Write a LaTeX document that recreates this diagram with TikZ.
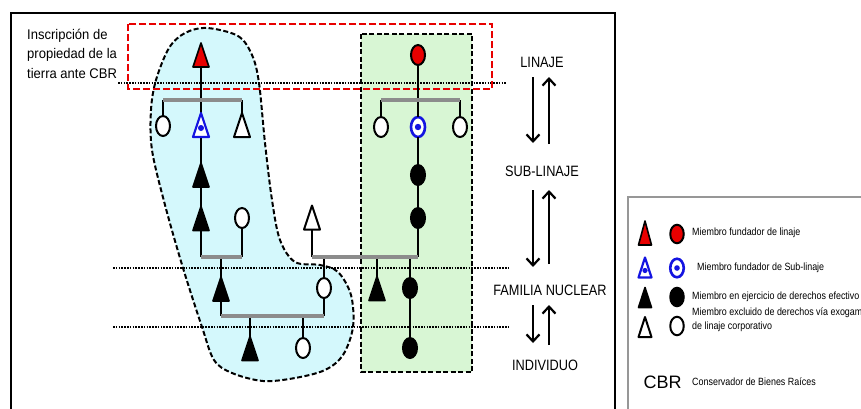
\documentclass[tikz,border=0pt]{standalone}
\usepackage{fontspec}
\setmainfont{Liberation Sans}
\newfontfamily\narrowfont[FakeStretch=0.85]{Liberation Sans}
\newfontfamily\inscfont[FakeStretch=0.93]{Liberation Sans}
\usetikzlibrary{shapes.geometric,arrows.meta}
\definecolor{blobcyan}{RGB}{212,248,252}
\definecolor{boxgreen}{RGB}{216,246,212}
\definecolor{linred}{RGB}{232,0,0}
\definecolor{subblue}{RGB}{20,20,225}
\definecolor{bargray}{RGB}{140,140,140}
\tikzset{
  member/.style={inner sep=0pt, outer sep=0pt},
  trinode/.style={member, rectangle, minimum width=16pt, minimum height=24pt},
  ltrinode/.style={member, rectangle, minimum width=13pt, minimum height=20pt},
  circnode/.style={member, ellipse, minimum width=14pt, minimum height=20pt, line width=2pt, draw=black},
  lcircnode/.style={circnode, minimum width=13.5pt, minimum height=18.5pt},
  wfill/.style={fill=white},
  bfill/.style={fill=black},
  rfill/.style={fill=linred},
  bluering/.style={draw=subblue, line width=2.6pt, fill=white},
  rtri/.style={fill=linred, draw=black, line width=1.6pt, line join=round},
  wtri/.style={fill=white, draw=black, line width=2pt, line join=round},
  btri/.style={fill=black, draw=black, line width=1.6pt, line join=round},
  bltri/.style={fill=white, draw=subblue, line width=2.2pt, line join=round},
  bluedot/.style={fill=subblue},
  conn/.style={draw=black, line width=2pt},
  bar/.style={draw=bargray, line width=3.2pt},
  dotline/.style={draw=black, line width=2.8pt, dash pattern=on 1.5pt off 1.3pt},
  blackdash/.style={draw=black, line width=2pt, dash pattern=on 5pt off 2.5pt},
  reddash/.style={draw=linred, line width=2.8pt, dash pattern=on 7pt off 3pt},
  levelarrow/.style={draw=black, line width=2.2pt, -{Straight Barb[length=7pt,width=13pt]}},
  levellabel/.style={font=\narrowfont\fontsize{15}{18}\selectfont, inner sep=0pt},
  insclabel/.style={font=\inscfont\fontsize{14}{18}\selectfont, inner sep=0pt, anchor=base west},
  legtext/.style={font=\narrowfont\fontsize{10.5}{14}\selectfont, inner sep=0pt, anchor=west, align=left}
}
\begin{document}
\begin{tikzpicture}[x=1pt,y=-1pt]
\useasboundingbox (0,0) rectangle (861,408);
\clip (0,0) rectangle (861,408);
\fill[white] (0,0) rectangle (861,408);

% frame and legend box
\draw[line width=2pt] (11,430) -- (11,13);
\draw[line width=2pt] (615,13) -- (615,430);
\draw[line width=2.8pt] (10,13) -- (616,13);
\draw[draw=bargray!90, line width=1.1pt] (628,430) -- (628,197) -- (880,197);

% green lineage box
\filldraw[fill=boxgreen, blackdash] (361,34) rectangle (472,372);

% cyan sub-lineage blob
\filldraw[fill=blobcyan, blackdash] plot[smooth cycle, tension=0.55] coordinates {
 (207,28) (238,36) (252,55) (259,83) (265,143) (272,200) (280,240) (295,262)
 (320,265) (338,272) (351,295) (353,327) (343,355) (325,370) (295,378) (263,381)
 (232,373) (214,360) (202,327) (183,268) (165,205) (152,150) (151,110) (156,80)
 (169,48) (185,33)};

% level separators
\draw[dotline] (118,83) -- (507,83);
\draw[dotline] (113,268) -- (510,268);
\draw[dotline] (113,327) -- (510,327);

% land registration box
\draw[reddash] (128,24) rectangle (492,89);

% inscription label
\node[insclabel] (ins1) at (27,39) {Inscripción de};
\node[insclabel] (ins2) at (27,58.5) {propiedad de la};
\node[insclabel] (ins3) at (27,78) {tierra ante CBR};

% members: left lineage
\node[trinode] (A0) at (201,55) {};
\node[circnode, wfill] (A1) at (163,126) {};
\node[trinode] (A2) at (201,125) {};
\node[trinode] (A3) at (242,125) {};
\node[trinode] (A4) at (201,175) {};
\node[trinode] (A5) at (201,218.5) {};
\node[circnode, wfill] (A6) at (242,218) {};
\node[trinode] (A7) at (221,289) {};
\node[trinode] (A8) at (250,348.5) {};
\node[circnode, wfill] (A9) at (303,348) {};
% members: right lineage
\node[circnode, rfill] (B0) at (418,55) {};
\node[circnode, wfill] (B1) at (381,127) {};
\node[circnode, bluering] (B2) at (418,127) {};
\node[circnode, wfill] (B3) at (460,127) {};
\node[circnode, bfill] (B4) at (418,175) {};
\node[circnode, bfill] (B5) at (418,218) {};
\node[trinode] (W) at (312,217.5) {};
\node[circnode, wfill] (C) at (324,288) {};
\node[trinode] (T) at (377,288.5) {};
\node[circnode, bfill] (D) at (410,288) {};
\node[circnode, bfill] (E) at (410,348) {};

% bar levels
\coordinate (L1) at (201,100);
\coordinate (R1) at (418,100);
\coordinate (L2) at (221,257);
\coordinate (M) at (312,257);
\coordinate (L3) at (221,316);

% connectors
\draw[conn] (A0.south) -- (A2.north);
\draw[conn] (A1.north) -- (A1.north |- L1);
\draw[conn] (A3.north) -- (A3.north |- L1);
\draw[conn] (A2.south) -- (A4.north);
\draw[conn] (A4.south) -- (A5.north);
\draw[conn] (A5.south) -- (A5.south |- L2);
\draw[conn] (A6.south) -- (A6.south |- L2);
\draw[conn] (L2) -- (A7.north);
\draw[conn] (A7.south) -- (A7.south |- L3);
\draw[conn] (C.south) -- (C.south |- L3);
\draw[conn] (A8.north |- L3) -- (A8.north);
\draw[conn] (A9.north |- L3) -- (A9.north);
\draw[conn] (B0.south) -- (B2.north);
\draw[conn] (B1.north) -- (B1.north |- R1);
\draw[conn] (B3.north) -- (B3.north |- R1);
\draw[conn] (B2.south) -- (B4.north);
\draw[conn] (B4.south) -- (B5.north);
\draw[conn] (B5.south) -- (B5.south |- M);
\draw[conn] (W.south) -- (W.south |- M);
\draw[conn] (C.north |- M) -- (C.north);
\draw[conn] (T.north |- M) -- (T.north);
\draw[conn] (D.north |- M) -- (D.north);
\draw[conn] (D.south) -- (E.north);

% sibling bars
\draw[bar] (A1.north |- L1) -- (A3.north |- L1);
\draw[bar] (B1.north |- R1) -- (B3.north |- R1);
\draw[bar] (A5.south |- L2) -- (A6.south |- L2);
\draw[bar] (W.south |- M) -- (B5.south |- M);
\draw[bar] (A7.south |- L3) -- (C.south |- L3);

% legend members
\node[ltrinode, minimum height=24pt] (LT1) at (645,233) {};
\node[lcircnode, rfill] (LC1) at (677,234) {};
\node[ltrinode] (LT2) at (645,267.5) {};
\node[lcircnode, bluering] (LC2) at (677,268) {};
\node[ltrinode] (LT3) at (645,297.5) {};
\node[lcircnode, bfill] (LC3) at (677,297) {};
\node[ltrinode] (LT4) at (645,327) {};
\node[lcircnode, wfill] (LC4) at (677,326) {};

% triangles
\foreach \n/\st in {A0/rtri, A2/bltri, A3/wtri, A4/btri, A5/btri, A7/btri, A8/btri, W/wtri, T/btri, LT1/rtri, LT2/bltri, LT3/btri, LT4/wtri}
  \draw[\st] (\n.south west) -- (\n.south east) -- (\n.north) -- cycle;

% blue dots
\fill[bluedot] ([yshift=-3pt]A2.center) circle (3pt);
\fill[bluedot] (B2.center) circle (3.2pt);
\fill[bluedot] ([yshift=-3pt]LT2.center) circle (2.6pt);
\fill[bluedot] (LC2.center) circle (2.8pt);

% level labels and arrows
\node[levellabel] (lin) at (542,62) {LINAJE};
\node[levellabel] (sub) at (542,171.5) {SUB-LINAJE};
\node[levellabel] (fam) at (550,290.5) {FAMILIA NUCLEAR};
\node[levellabel] (ind) at (545,365) {INDIVIDUO};
\coordinate (d1s) at (533,77);  \coordinate (d1e) at (533,143);
\coordinate (u1s) at (549,144); \coordinate (u1e) at (549,77);
\coordinate (d2s) at (533,190); \coordinate (d2e) at (533,267);
\coordinate (u2s) at (549,264); \coordinate (u2e) at (549,190);
\coordinate (d3s) at (533,305); \coordinate (d3e) at (533,343);
\coordinate (u3s) at (549,345); \coordinate (u3e) at (549,305);
\draw[levelarrow] (d1s) -- (d1e);
\draw[levelarrow] (u1s) -- (u1e);
\draw[levelarrow] (d2s) -- (d2e);
\draw[levelarrow] (u2s) -- (u2e);
\draw[levelarrow] (d3s) -- (d3e);
\draw[levelarrow] (u3s) -- (u3e);

% legend texts
\node[legtext] (t1) at (692,233) {Miembro fundador de linaje};
\node[legtext] (t2) at (697,268) {Miembro fundador de Sub-linaje};
\node[legtext] (t3) at (692,297) {Miembro en ejercicio de derechos efectivo};
\node[legtext] (t4) at (692,320) {Miembro excluido de derechos vía exogamia\\de linaje corporativo};
\node[font=\fontsize{18}{20}\selectfont, inner sep=0pt] (cbr) at (662.5,382) {CBR};
\node[legtext] (t5) at (692,382) {Conservador de Bienes Raíces};
\end{tikzpicture}
\end{document}
